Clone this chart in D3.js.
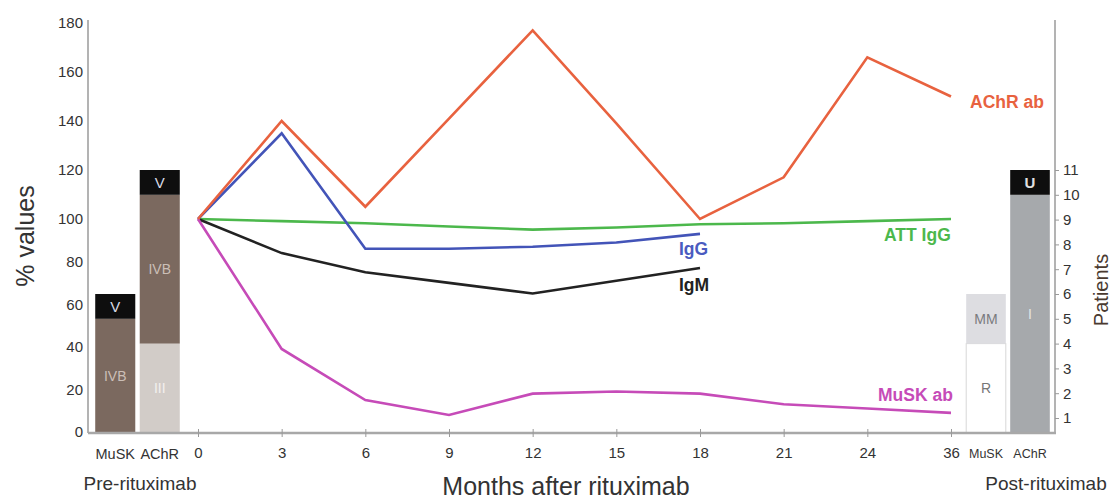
<!DOCTYPE html>
<html><head><meta charset="utf-8">
<script src="https://cdn.jsdelivr.net/npm/d3@7"></script>
<style>
body{margin:0;background:#fff}
svg{display:block}
text{font-family:"Liberation Sans",Arial,Helvetica,sans-serif}
</style>
</head><body>
<svg id="c" width="1112" height="499"></svg>
<script>
// ---- data ----
const months = ["0","3","6","9","12","15","18","21","24","36"];
const achrAb = [100,140,105,141,177,139,100,117,166,150];
const igG    = [100,135,86,86,87,89,93];
const igM    = [100,84,75,70,65,71,77];
const attIgG = [100,99,98,96.5,95,96,97.5,98,99,100];
const muskAb = [100,39,15,8,18,19,18,13,11,9];
const pctTicks = [0,20,40,60,80,100,120,140,160,180];
const patientTicks = [1,2,3,4,5,6,7,8,9,10,11];
const groups = ["MuSK","AChR"];
const preMusk  = [{cls:"IVB",n:5},{cls:"V",n:1}];
const preAchr  = [{cls:"III",n:4},{cls:"IVB",n:6},{cls:"V",n:1}];
const postMusk = [{cls:"R",n:4},{cls:"MM",n:2}];
const postAchr = [{cls:"I",n:10},{cls:"U",n:1}];

// ---- styles ----
const segFill = {V:"#0e0e0e",IVB:"#7b695f",III:"#d2ccc8",R:"#ffffff",MM:"#dddde1",I:"#a6a9ac",U:"#0e0e0e"};
const segText = {V:"#d8dbe6",IVB:"#cbbfb7",III:"#f2f0ee",R:"#777",MM:"#7a7a7e",I:"#e4e4e4",U:"#e0e0e0"};
const FONT = "'Liberation Sans',Arial,sans-serif";

const svg = d3.select("#c");
const x = d3.scalePoint().domain(months).range([198,951]);
const y = d3.scaleLinear().domain([0,100,180]).range([432,219,23]);
const yp = d3.scaleLinear().domain([0,1,11]).range([433,418,170]);
const xPre = d3.scaleBand().domain(groups).range([93,182]).paddingInner(0.1).paddingOuter(0.05);
const xPost = d3.scaleBand().domain(groups).range([964,1052]).paddingInner(0.1).paddingOuter(0.05);

// ---- stacked bars ----
function drawStack(xs, key, segs){
  let acc = 0;
  const g = svg.append("g");
  segs.forEach(s=>{
    const y0 = acc, y1 = acc + s.n; acc = y1;
    g.append("rect")
      .attr("x", xs(key)).attr("width", xs.bandwidth())
      .attr("y", yp(y1)).attr("height", yp(y0)-yp(y1))
      .attr("fill", segFill[s.cls])
      .attr("stroke", s.cls==="R" ? "#d8d8d8" : "none");
    g.append("text")
      .attr("x", xs(key)+xs.bandwidth()/2)
      .attr("y", (yp(y0)+yp(y1))/2)
      .attr("dy","0.36em").attr("text-anchor","middle")
      .attr("font-size", s.cls==="U"||s.cls==="V" ? 15 : 14)
      .attr("font-weight", s.cls==="U" ? "bold" : "normal")
      .attr("fill", segText[s.cls]).text(s.cls);
  });
}
drawStack(xPre,"MuSK",preMusk);
drawStack(xPre,"AChR",preAchr);
drawStack(xPost,"MuSK",postMusk);
drawStack(xPost,"AChR",postAchr);

// ---- axes ----
const axisCol = "#9a9a9a";
svg.append("line").attr("x1",88).attr("x2",88).attr("y1",20).attr("y2",433).attr("stroke",axisCol).attr("stroke-width",1.5);
svg.append("line").attr("x1",1055).attr("x2",1055).attr("y1",20).attr("y2",433).attr("stroke",axisCol).attr("stroke-width",1.5);
svg.append("line").attr("x1",88).attr("x2",1056).attr("y1",433).attr("y2",433).attr("stroke","#a8a8a8").attr("stroke-width",2.5);

const gl = svg.append("g").attr("transform","translate(88,0)")
  .call(d3.axisLeft(y).tickValues(pctTicks).tickSize(0).tickPadding(5));
gl.select(".domain").remove();
gl.selectAll("text").attr("font-size",15).attr("fill","#333").style("font-family",FONT);

const gr = svg.append("g").attr("transform","translate(1055,0)")
  .call(d3.axisRight(yp).tickValues(patientTicks).tickSize(4).tickPadding(4));
gr.select(".domain").remove();
gr.selectAll("line").attr("stroke",axisCol);
gr.selectAll("text").attr("font-size",15).attr("fill","#333").style("font-family",FONT);

const gb = svg.append("g").attr("transform","translate(0,433)")
  .call(d3.axisBottom(x).tickSize(4).tickPadding(10));
gb.select(".domain").remove();
gb.selectAll("line").attr("stroke",axisCol).attr("y1",-4);
gb.selectAll("text").attr("font-size",15).attr("fill","#333").style("font-family",FONT);

// category labels under bars
svg.append("g").selectAll("text").data(groups).join("text")
  .attr("x", d=>xPre(d)+xPre.bandwidth()/2).attr("y",459)
  .attr("text-anchor","middle").attr("font-size",14.5).attr("fill","#333").text(d=>d);
svg.append("g").selectAll("text").data(groups).join("text")
  .attr("x", d=>xPost(d)+xPost.bandwidth()/2).attr("y",458)
  .attr("text-anchor","middle").attr("font-size",12.5).attr("fill","#333").text(d=>d);

svg.append("text").attr("x",140).attr("y",490).attr("text-anchor","middle").attr("font-size",19).attr("fill","#333").text("Pre-rituximab");
svg.append("text").attr("x",1046).attr("y",490).attr("text-anchor","middle").attr("font-size",19).attr("fill","#333").text("Post-rituximab");
svg.append("text").attr("x",566).attr("y",495).attr("text-anchor","middle").attr("font-size",25).attr("fill","#333").text("Months after rituximab");
svg.append("text").attr("transform","translate(34,236) rotate(-90)").attr("text-anchor","middle").attr("font-size",25).attr("fill","#333").text("% values");
svg.append("text").attr("transform","translate(1108,290) rotate(-90)").attr("text-anchor","middle").attr("font-size",20).attr("fill","#4a3a30").text("Patients");

// ---- lines ----
const line = d3.line().x((d,i)=>x(months[i])).y(d=>y(d));
const series = [
  {v:attIgG, c:"#4cb84c"},
  {v:igM,    c:"#222222"},
  {v:igG,    c:"#4354b8"},
  {v:muskAb, c:"#c64bb8"},
  {v:achrAb, c:"#e8623f"}
];
series.forEach(s=>{
  svg.append("path").attr("d",line(s.v)).attr("fill","none")
    .attr("stroke",s.c).attr("stroke-width",2.6).attr("stroke-linejoin","miter");
});

// series labels
const lab = (t,xx,yy,c)=>svg.append("text").attr("x",xx).attr("y",yy).attr("font-size",17.5).attr("font-weight","bold").attr("fill",c).text(t);
lab("AChR ab",970,108,"#e8623f");
lab("ATT IgG",884,241,"#4cb84c");
lab("IgG",679,255,"#4a5bc0");
lab("IgM",679,291,"#222");
lab("MuSK ab",878,401,"#c64bb8");
</script>
</body></html>
